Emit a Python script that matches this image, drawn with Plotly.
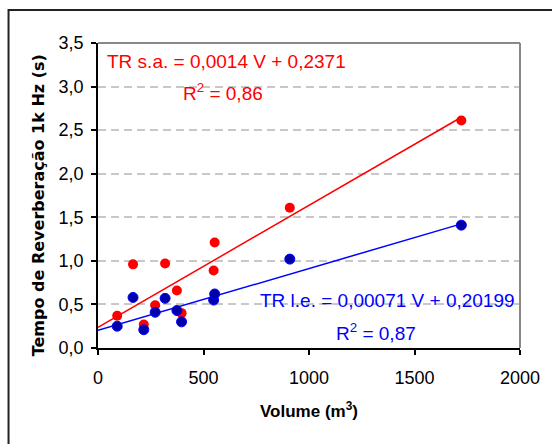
import numpy as np
import plotly.graph_objects as go

# Data
volume = [91, 166, 217, 271, 318, 374, 396, 548, 553, 909, 1722]
tr_sa = [0.37, 0.96, 0.27, 0.49, 0.97, 0.66, 0.40, 0.89, 1.21, 1.61, 2.61]
tr_le = [0.25, 0.58, 0.21, 0.41, 0.57, 0.43, 0.30, 0.55, 0.62, 1.02, 1.41]

# Trend line coefficients (from the chart's equations)
slope_sa, icpt_sa = 0.0014, 0.2371
slope_le, icpt_le = 0.00071, 0.20199

eq_sa = "TR s.a. = 0,0014 V + 0,2371"
r2_sa = "R<sup>2</sup> = 0,86"
eq_le = "TR l.e. = 0,00071 V + 0,20199"
r2_le = "R<sup>2</sup> = 0,87"
y_title = "<b>Tempo de Reverberação 1k Hz (s)</b>"
x_title = "<b>Volume (m<sup>3</sup>)</b>"

x_ticks = [0, 500, 1000, 1500, 2000]
y_ticks = [0, 0.5, 1.0, 1.5, 2.0, 2.5, 3.0, 3.5]

RED = "#FF0000"
BLUE = "#0000FF"
FONT = "Liberation Sans, Arial, sans-serif"

xl = np.array([0, max(volume)])

fig = go.Figure()
fig.add_trace(go.Scatter(x=xl, y=slope_sa * xl + icpt_sa, mode="lines",
                         line=dict(color=RED, width=1.5), showlegend=False, hoverinfo="skip"))
fig.add_trace(go.Scatter(x=xl, y=slope_le * xl + icpt_le, mode="lines",
                         line=dict(color=BLUE, width=1.5), showlegend=False, hoverinfo="skip"))
fig.add_trace(go.Scatter(x=volume, y=tr_sa, mode="markers",
                         marker=dict(color=RED, size=10, line=dict(width=0)),
                         showlegend=False))
fig.add_trace(go.Scatter(x=volume, y=tr_le, mode="markers",
                         marker=dict(color="#0000AA", size=10, line=dict(color="#0000FF", width=1)),
                         showlegend=False))

fig.update_layout(
    width=552, height=444,
    margin=dict(l=98, r=30, t=43, b=96),
    paper_bgcolor="white", plot_bgcolor="white",
    separators=",.",
    font=dict(family=FONT, size=18, color="black"),
    showlegend=False,
)

fig.update_xaxes(
    range=[0, 2000], tickvals=x_ticks, tickformat="d",
    showgrid=False, zeroline=False,
    showline=True, linecolor="black", linewidth=1.5,
    ticks="outside", ticklen=5, tickcolor="black", tickwidth=1.5,
    tickfont=dict(size=18), ticklabelstandoff=8,
    title=dict(text=x_title, font=dict(size=17), standoff=18),
)
fig.update_yaxes(
    range=[0, 3.5], tickvals=y_ticks, tickformat=".1f",
    showgrid=True, gridcolor="#C8C8C8", gridwidth=1.5, griddash="8px,5px",
    zeroline=False,
    showline=True, linecolor="black", linewidth=1.5,
    ticks="outside", ticklen=5, tickcolor="black", tickwidth=1.5,
    tickfont=dict(size=18), ticklabelstandoff=4,
)

# y-axis title (placed as rotated text, slightly below plot centre as in the reference)
fig.add_annotation(x=(39 - 98) / 424, y=1.0 - (205 - 43) / 305, xref="paper", yref="paper",
                   text=y_title, textangle=-90, showarrow=False,
                   xanchor="center", yanchor="middle",
                   font=dict(family="DejaVu Sans, sans-serif", size=16, color="black"))

# plot-area border (top and right in grey)
fig.add_shape(type="line", xref="paper", yref="paper", x0=0, x1=1, y0=1, y1=1,
              line=dict(color="#888888", width=2))
fig.add_shape(type="line", xref="paper", yref="paper", x0=1, x1=1, y0=0, y1=1,
              line=dict(color="#888888", width=2))
# outer chart frame
fig.add_shape(type="rect", xref="paper", yref="paper", x0=-0.212, x1=1.2, y0=-0.5, y1=1.108,
              line=dict(color="#222222", width=2), layer="below")

fig.add_annotation(x=0.016, y=1.0 - (61.7 - 43) / 305, xref="paper", yref="paper",
                   text=eq_sa, showarrow=False, xanchor="left", yanchor="middle",
                   font=dict(color=RED, size=19))
fig.add_annotation(x=(224 - 98) / 424, y=1.0 - (91.7 - 43) / 305, xref="paper", yref="paper",
                   text=r2_sa, showarrow=False, xanchor="center", yanchor="middle",
                   font=dict(color=RED, size=19))
fig.add_annotation(x=(519 - 98) / 424, y=1.0 - (300 - 43) / 305, xref="paper", yref="paper",
                   text=eq_le, showarrow=False, xanchor="right", yanchor="middle",
                   font=dict(color=BLUE, size=19))
fig.add_annotation(x=(420 - 98) / 424, y=1.0 - (331.7 - 43) / 305, xref="paper", yref="paper",
                   text=r2_le, showarrow=False, xanchor="right", yanchor="middle",
                   font=dict(color=BLUE, size=19))

fig.write_html("out.html")
